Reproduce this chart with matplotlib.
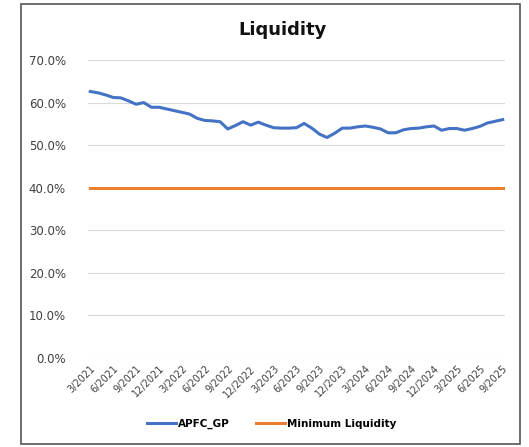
import numpy as np
import matplotlib
matplotlib.use("Agg")
import matplotlib.pyplot as plt
from matplotlib.patches import Rectangle
from matplotlib.ticker import PercentFormatter

# monthly liquidity, 3/2021 .. 9/2025 (percent)
apfc_gp = [62.6, 62.3, 61.8, 61.2, 61.1, 60.4, 59.6, 60.0, 58.9, 58.9,
           58.5, 58.1, 57.7, 57.3, 56.3, 55.8, 55.7, 55.5, 53.8, 54.6,
           55.5, 54.7, 55.4, 54.7, 54.1, 54.0, 54.0, 54.1, 55.1, 54.0,
           52.6, 51.8, 52.8, 54.0, 54.0, 54.3, 54.5, 54.2, 53.8, 52.9,
           52.9, 53.6, 53.9, 54.0, 54.3, 54.5, 53.5, 53.9, 53.9, 53.5,
           53.9, 54.4, 55.2, 55.6, 56.0]
min_liquidity = [40.0] * len(apfc_gp)
tick_labels = ["3/2021", "6/2021", "9/2021", "12/2021", "3/2022", "6/2022",
               "9/2022", "12/2022", "3/2023", "6/2023", "9/2023", "12/2023",
               "3/2024", "6/2024", "9/2024", "12/2024", "3/2025", "6/2025",
               "9/2025"]

x = np.arange(len(apfc_gp))

fig = plt.figure(figsize=(5.29, 4.47), dpi=100)
fig.patches.append(Rectangle((21/529, 3/447), 499/529, 440/447,
                             transform=fig.transFigure, fill=False,
                             edgecolor="#555555", linewidth=1.2))

ax = fig.add_axes([88/529, 1-358/447, 417/529, 298/447])
ax.plot(x, apfc_gp, color="#4472C4", linewidth=2.2, label="APFC_GP")
ax.plot(x, min_liquidity, color="#ED7D31", linewidth=2.2, label="Minimum Liquidity")

ax.set_ylim(0, 70)
ax.set_yticks(np.arange(0, 71, 10))
ax.yaxis.set_major_formatter(PercentFormatter(decimals=1))
ax.set_xlim(-0.3, len(apfc_gp) - 0.7)
ax.set_xticks(x[::3])
ax.set_xticklabels(tick_labels, rotation=45, ha="right", rotation_mode="anchor")
ax.grid(axis="y", color="#d9d9d9", linewidth=0.8)
ax.set_axisbelow(True)
for s in ax.spines.values():
    s.set_visible(False)
ax.tick_params(axis="both", length=0, labelcolor="#404040")
ax.tick_params(axis="y", pad=16, labelsize=8.5)
ax.tick_params(axis="x", pad=4, labelsize=7)

fig.text(0.535, 0.933, "Liquidity", ha="center", va="center",
         fontsize=13, fontweight="bold", color="#111111")
fig.legend(loc="center", bbox_to_anchor=(272/529, 1-424/447), ncol=2, frameon=False,
           prop={"size": 7.5, "weight": "bold"}, handlelength=2.8, columnspacing=2.5,
           handletextpad=0.2)

fig.savefig("out.png", dpi=100)
